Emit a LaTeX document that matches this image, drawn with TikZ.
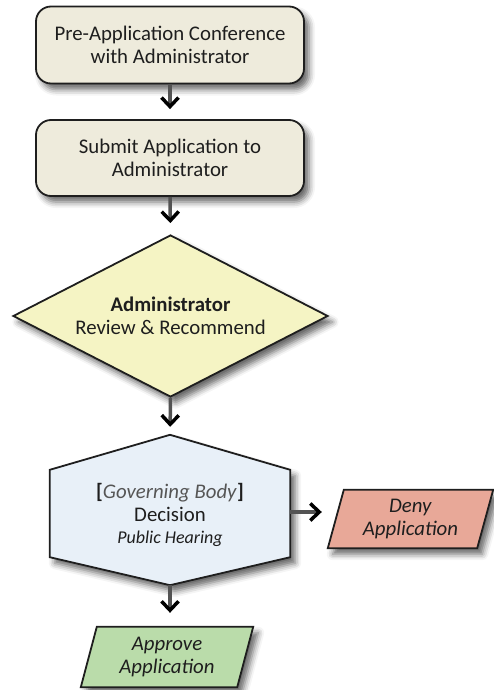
\documentclass[tikz,border=0pt]{standalone}
\usepackage{fontspec}
\setmainfont{Carlito}
\usetikzlibrary{arrows.meta,shapes.geometric,shadows.blur,backgrounds}
\definecolor{boxfill}{RGB}{238,235,220}
\definecolor{diafill}{RGB}{245,244,196}
\definecolor{hexfill}{RGB}{232,240,248}
\definecolor{denyfill}{RGB}{232,168,152}
\definecolor{apprfill}{RGB}{186,220,170}
\definecolor{linec}{RGB}{30,30,30}
\definecolor{textc}{RGB}{30,30,30}
\definecolor{govc}{RGB}{85,85,85}
\newcommand{\mainsize}{\fontsize{20.8}{23}\selectfont}
\newcommand{\smallsize}{\fontsize{18}{22}\selectfont}
\begin{document}
\begin{tikzpicture}[x=1pt,y=-1pt,
  shadowed/.style={blur shadow={shadow xshift=5pt,shadow yshift=-6pt,shadow blur radius=6pt,shadow opacity=60}},
  outline/.style={draw=linec,line width=1.8pt,line join=miter},
  stepbox/.style={outline,fill=boxfill,rounded corners=15pt,minimum width=268pt,minimum height=77pt,align=center,text=textc,font=\mainsize,shadowed},
  holder/.style={inner sep=0pt,align=center,text=textc,font=\mainsize},
  arr/.style={line width=3.5pt,draw=gray!65!black,-{Straight Barb[length=9pt,width=17pt,line width=3.5pt,color=black]}}
]
\useasboundingbox (0,0) rectangle (494,690);

\node[stepbox] (pre) at (170,45) {Pre-Application Conference\\with Administrator};
\node[stepbox,minimum height=76pt] (sub) at (170,158) {Submit Application to\\Administrator};
\node[diamond,aspect=1.94,outline,fill=diafill,minimum width=315pt,minimum height=162pt,inner sep=0pt,align=center,text=textc,font=\mainsize,shadowed] (rev) at (170.5,316) {\textbf{Administrator}\\Review \& Recommend};

\node[holder,minimum width=240pt,minimum height=150pt] (hex) at (170,515)
  {\textbf{[}\textcolor{govc}{\textit{Governing Body}}\textbf{]}\\Decision\\[-1pt]{\smallsize\textit{Public Hearing}}};
\node[holder,minimum width=165pt,minimum height=58pt] (deny) at (410.5,519) {\textit{Deny}\\\textit{Application}};
\node[holder,minimum width=172pt,minimum height=60pt] (appr) at (167,657) {\textit{Approve}\\\textit{Application}};

\begin{scope}[on background layer]
  \filldraw[outline,fill=hexfill,shadowed] ([yshift=5pt]hex.north) -- ([yshift=-30pt]hex.north east) -- ([yshift=33pt]hex.south east) -- ([yshift=5pt]hex.south) -- ([yshift=33pt]hex.south west) -- ([yshift=-30pt]hex.north west) -- cycle;
  \filldraw[outline,fill=denyfill,shadowed] ([xshift=16pt]deny.north west) -- (deny.north east) -- ([xshift=-16pt]deny.south east) -- (deny.south west) -- cycle;
  \filldraw[outline,fill=apprfill,shadowed] ([xshift=16pt]appr.north west) -- (appr.north east) -- ([xshift=-16pt]appr.south east) -- (appr.south west) -- cycle;
\end{scope}

\draw[arr,shorten >=10pt] (pre.south) -- (sub.north);
\draw[arr,shorten >=11pt] (sub.south) -- (rev.north);
\draw[arr,shorten >=8pt] (rev.south) -- ([yshift=5pt]hex.north);
\draw[arr] ([yshift=5pt]hex.south) -- ([yshift=14pt]hex.south |- appr.north);
\draw[arr] ([yshift=3pt]hex.east) -- ([xshift=-6pt,yshift=3pt]deny.west |- hex.east);
\end{tikzpicture}
\end{document}
